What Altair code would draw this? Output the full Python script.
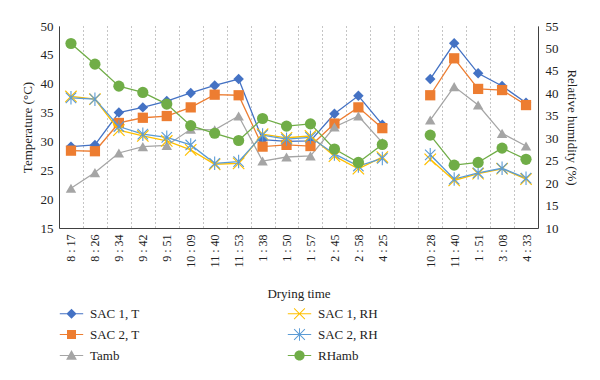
import math
import altair as alt
import pandas as pd

# ---------------- data ----------------
time_labels = ["8 : 17", "8 : 26", "9 : 34", "9 : 42", "9 : 51", "10 : 09", "11 : 40",
               "11 : 53", "1 : 38", "1 : 50", "1 : 57", "2 : 45", "2 : 58", "4 : 25",
               "",
               "10 : 28", "11 : 40", "1 : 51", "3 : 08", "4 : 33"]
day = [1] * 14 + [None] + [2] * 5

sac1_t = [29.1, 29.4, 35.0, 35.9, 37.0, 38.4, 39.7, 40.8, 30.3, 30.0, 30.1, 34.8, 37.9, 32.9,
          None, 40.8, 47.0, 41.8, 39.6, 36.7]
sac2_t = [28.4, 28.3, 33.2, 34.1, 34.4, 35.9, 38.1, 38.0, 29.1, 29.4, 29.2, 33.1, 35.9, 32.3,
          None, 38.0, 44.4, 39.1, 38.9, 36.3]
tamb = [21.9, 24.6, 28.0, 29.1, 29.3, 32.1, 32.0, 34.4, 26.6, 27.3, 27.5, 32.5, 34.4, 29.8,
        None, 33.7, 39.5, 36.3, 31.4, 29.2]
sac1_rh = [39.3, 38.7, 31.8, 30.5, 29.4, 27.4, 24.2, 24.4, 30.9, 30.1, 30.5, 26.0, 23.2, 25.8,
           None, 25.3, 20.6, 22.1, 23.2, 20.9]
sac2_rh = [39.0, 38.7, 32.6, 30.9, 30.2, 28.5, 24.4, 24.8, 30.7, 29.8, 30.2, 26.5, 23.8, 25.5,
           None, 26.3, 20.9, 22.3, 23.3, 21.1]
rhamb = [51.1, 46.5, 41.6, 40.2, 37.6, 32.8, 31.1, 29.5, 34.4, 32.7, 33.2, 27.6, 24.6, 28.6,
         None, 30.7, 24.0, 24.6, 27.8, 25.3]

series_order = ["SAC 1, T", "SAC 2, T", "Tamb", "SAC 1, RH", "SAC 2, RH", "RHamb"]
series_colors = ["#4472C4", "#ED7D31", "#A5A5A5", "#FFC000", "#5B9BD5", "#70AD47"]

keys = [f"{i}|{t}" for i, t in enumerate(time_labels)]

series_values = {
    "SAC 1, T": sac1_t, "SAC 2, T": sac2_t, "Tamb": tamb,
    "SAC 1, RH": sac1_rh, "SAC 2, RH": sac2_rh, "RHamb": rhamb,
}
rows = []
for name, vals in series_values.items():
    for k, d, v in zip(keys, day, vals):
        if v is not None:
            rows.append({"key": k, "series": name, "value": v, "day": d})
df = pd.DataFrame(rows)
legend_df = pd.DataFrame({"series": series_order})

# ---------------- legend symbol paths (line + marker) ----------------
def poly(pts):
    n = len(pts)
    a = sum(pts[i][0] * pts[(i + 1) % n][1] - pts[(i + 1) % n][0] * pts[i][1] for i in range(n))
    if a < 0:
        pts = pts[::-1]
    return "M" + "L".join(f"{x:.3f},{y:.3f}" for x, y in pts) + "Z"

def bar(x1, y1, x2, y2, h):
    dx, dy = x2 - x1, y2 - y1
    L = math.hypot(dx, dy)
    nx, ny = -dy / L * h, dx / L * h
    return poly([(x1 + nx, y1 + ny), (x2 + nx, y2 + ny), (x2 - nx, y2 - ny), (x1 - nx, y1 - ny)])

leg_line = bar(-1.95, 0, 1.95, 0, 0.09)
p_diamond = poly([(-0.85, 0), (0, -0.85), (0.85, 0), (0, 0.85)])
p_square = poly([(-0.75, -0.75), (0.75, -0.75), (0.75, 0.75), (-0.75, 0.75)])
p_triangle = poly([(0, -0.9), (0.9, 0.7), (-0.9, 0.7)])
p_circle = poly([(0.85 * math.cos(2 * math.pi * i / 28), 0.85 * math.sin(2 * math.pi * i / 28)) for i in range(28)])
p_x = bar(-0.9, -0.9, 0.9, 0.9, 0.08) + bar(-0.9, 0.9, 0.9, -0.9, 0.08)
p_ast = p_x + bar(0, -1.05, 0, 1.05, 0.08)
legend_paths = [leg_line + p_diamond, leg_line + p_square, leg_line + p_triangle,
                leg_line + p_x, leg_line + p_ast, leg_line + p_circle]

# ---------------- encodings ----------------
SERIF = "Liberation Serif"
TXT = "#222222"
AX = "#404040"

color_scale = alt.Scale(domain=series_order, range=series_colors)

x_enc = alt.X(
    "key:N",
    scale=alt.Scale(type="band", domain=keys, paddingInner=0, paddingOuter=0),
    axis=alt.Axis(
        title="Drying time", labelAngle=270,
        labelExpr="split(datum.value, '|')[1]",
        ticks=False, tickBand="extent", grid=True, gridDash=[1, 3], gridColor="#8a8a8a",
        gridWidth=1, domainColor=AX, labelFont=SERIF, labelFontSize=12, labelColor=TXT,
        labelPadding=6, titleFont=SERIF, titleFontSize=13, titleFontWeight="normal",
        titleColor=TXT, titlePadding=20,
    ),
)

y_left = alt.Y(
    "value:Q",
    scale=alt.Scale(domain=[15, 50], nice=False),
    axis=alt.Axis(title="Temperature (°C)", values=list(range(15, 55, 5)), ticks=False,
                  grid=False, domainColor=AX, labelFont=SERIF, labelFontSize=13,
                  labelColor=TXT, labelPadding=6, titleFont=SERIF, titleFontSize=13,
                  titleFontWeight="normal", titleColor=TXT, titlePadding=6),
)
y_right = alt.Y(
    "value:Q",
    scale=alt.Scale(domain=[10, 55], nice=False),
    axis=alt.Axis(orient="right", title="Relative humidity (%)", values=list(range(10, 60, 5)),
                  ticks=False, grid=False, domainColor=AX, labelFont=SERIF, labelFontSize=13,
                  labelColor=TXT, labelPadding=7, titleFont=SERIF, titleFontSize=13,
                  titleFontWeight="normal", titleColor=TXT, titlePadding=6),
)

color_nolegend = alt.Color("series:N", scale=color_scale, legend=None)

def lines(names, y):
    return alt.Chart(df).mark_line(strokeWidth=1.3).encode(
        x=x_enc, y=y, color=color_nolegend, detail="day:N"
    ).transform_filter(alt.FieldOneOfPredicate(field="series", oneOf=names))

def points(name, y, **mk):
    return alt.Chart(df).mark_point(opacity=1, **mk).encode(
        x=x_enc, y=y, color=color_nolegend
    ).transform_filter(alt.datum.series == name)

t_group = alt.layer(
    lines(["SAC 1, T", "SAC 2, T", "Tamb"], y_left),
    points("SAC 1, T", y_left, shape="diamond", filled=True, size=110),
    points("SAC 2, T", y_left, shape="square", filled=True, size=105),
    points("Tamb", y_left, shape="triangle-up", filled=True, size=110),
)

rh_group = alt.layer(
    lines(["SAC 1, RH", "SAC 2, RH", "RHamb"], y_right),
    points("SAC 1, RH", y_right, shape="M-1,-1L1,1M-1,1L1,-1", filled=False,
           size=130, strokeWidth=1.2),
    points("SAC 2, RH", y_right,
           shape="M-0.85,-0.85L0.85,0.85M-0.85,0.85L0.85,-0.85M0,-1.1L0,1.1",
           filled=False, size=150, strokeWidth=1.1),
    points("RHamb", y_right, shape="circle", filled=True, size=125),
)

legend_props = dict(
    title=None, orient="none", legendX=6, legendY=281, columns=2, columnPadding=147,
    rowPadding=7, symbolSize=144, symbolOpacity=1, symbolStrokeWidth=0,
    labelFont=SERIF, labelFontSize=13, labelColor=TXT, labelOffset=12,
)
legend_layer = alt.Chart(legend_df).mark_point(filled=True, opacity=0).encode(
    color=alt.Color("series:N", scale=color_scale, legend=alt.Legend(**legend_props)),
    shape=alt.Shape("series:N", scale=alt.Scale(domain=series_order, range=legend_paths),
                    legend=alt.Legend(**legend_props)),
)

chart = alt.layer(legend_layer, t_group, rh_group).resolve_scale(
    y="independent"
).resolve_legend(
    color="independent", shape="independent"
).properties(
    width=479, height=202,
    autosize=alt.AutoSizeParams(type="none"),
    padding={"left": 51, "top": 18, "right": 54, "bottom": 144},
).configure_view(stroke=None)

chart.save("out.html", embed_options={"renderer": "svg", "actions": False})
